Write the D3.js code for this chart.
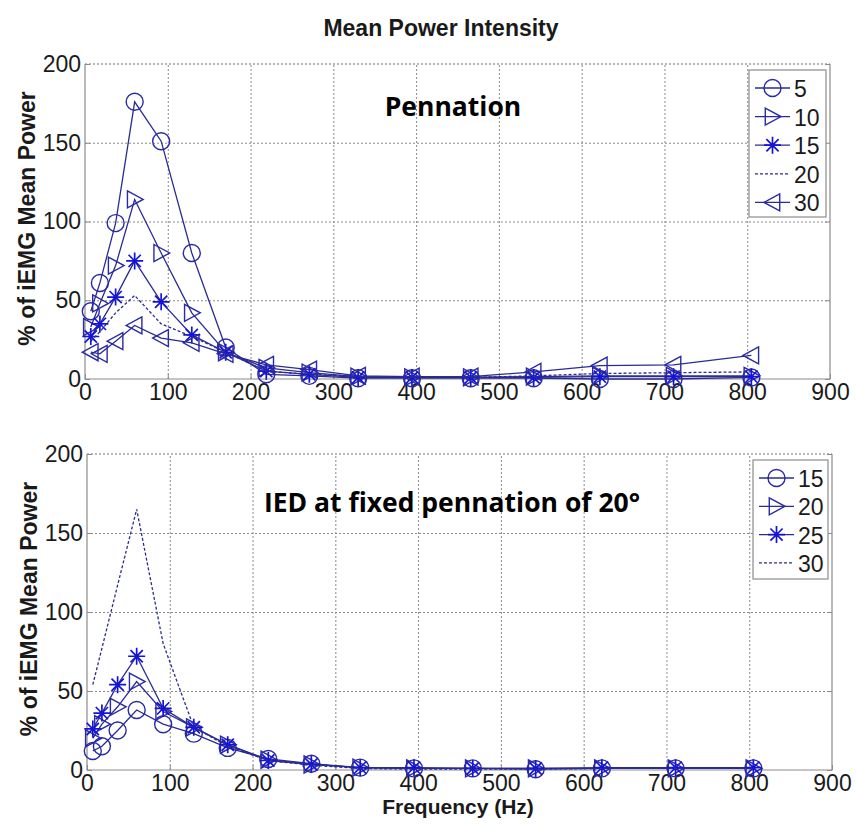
<!DOCTYPE html>
<html>
<head>
<meta charset="utf-8">
<script src="https://cdn.jsdelivr.net/npm/d3@7"></script>
<style>
  html, body { margin: 0; padding: 0; background: #fff; }
  svg { display: block; }
</style>
</head>
<body>
<svg id="chart" width="856" height="824"></svg>
<script>
// ---------------- DATA ----------------
const freq = [7, 18, 37, 60, 92, 129, 170, 219, 271, 330, 395, 466, 542, 622, 711, 805];
const xTicks = [0, 100, 200, 300, 400, 500, 600, 700, 800, 900];
const yTicks = [0, 50, 100, 150, 200];

// Top panel: pennation angles
const pennLabels = ["5", "10", "15", "20", "30"];
const penn5  = [43, 61, 99, 176, 151, 80, 20, 3, 2, 0.5, 0.5, 0.5, 0.5, 0, 0, 1];
const penn10 = [33, 48, 72, 114, 80, 42, 17, 7, 4, 1.5, 1, 1, 1.5, 2, 2, 2];
const penn15 = [27, 35, 52, 75, 49, 28, 17, 5, 3, 1, 1, 1, 1, 1.5, 1.5, 1.5];
const penn20 = [24, 30, 42, 53, 35, 27, 17, 5, 3, 1.5, 1, 1, 2, 3.5, 4, 4.5];
const penn30 = [17, 16, 24, 34, 26, 23, 16, 9, 6, 2, 1.5, 1.5, 4.5, 8.5, 9, 15];

// Bottom panel: IED at fixed pennation of 20°
const iedLabels = ["15", "20", "25", "30"];
const ied15 = [12, 15, 25, 38, 29, 23, 14, 7, 4, 1.5, 1, 1, 0.5, 1, 1, 1];
const ied20 = [20, 29, 40, 56, 37, 27, 16, 6.5, 3.5, 1.5, 1, 1, 1, 1, 1, 1];
const ied25 = [26, 36, 54, 72, 39, 27, 16, 6, 3.5, 1.5, 1.5, 1, 1, 1.5, 1.5, 1.5];
const ied30 = [54, 77, 117, 165, 80, 27, 15, 6, 3, 1, 0.5, 0.5, 0.5, 1, 1, 1];

// ---------------- STYLE ----------------
const LINE = "#2b2b94";
const MARK = "#2a2aa6";
const STAR = "#1414d6";
const svg = d3.select("#chart");
const font = "'Liberation Sans', Arial, sans-serif";

function markerPath(kind, r) {
  if (kind === "right") return `M${-r * 0.85},${-r}L${r},0L${-r * 0.85},${r}Z`;
  if (kind === "left") return `M${r * 0.85},${-r}L${-r},0L${r * 0.85},${r}Z`;
  if (kind === "star") {
    const d = r * 0.72;
    return `M0,${-r}L0,${r}M${-r},0L${r},0M${-d},${-d}L${d},${d}M${-d},${d}L${d},${-d}`;
  }
  return null;
}

function drawMarker(g, kind, cx, cy, r) {
  if (kind === "none") return;
  if (kind === "circle") {
    g.append("circle").attr("cx", cx).attr("cy", cy).attr("r", r)
      .attr("fill", "none").attr("stroke", MARK).attr("stroke-width", 1.4);
  } else {
    g.append("path").attr("d", markerPath(kind, r))
      .attr("transform", `translate(${cx},${cy})`)
      .attr("fill", "none").attr("stroke", kind === "star" ? STAR : MARK)
      .attr("stroke-width", kind === "star" ? 1.7 : 1.4);
  }
}

function panel(cfg) {
  const x = d3.scaleLinear().domain([0, 900]).range([cfg.left, cfg.right]);
  const y = d3.scaleLinear().domain([0, 200]).range([cfg.bottom, cfg.top]);
  const w = cfg.right - cfg.left, h = cfg.bottom - cfg.top;
  const g = svg.append("g");

  // grid
  g.append("g").attr("transform", `translate(0,${cfg.bottom})`)
    .call(d3.axisBottom(x).tickValues(xTicks.slice(1, -1)).tickSize(-h).tickFormat(""))
    .call(s => s.select(".domain").remove())
    .call(s => s.selectAll("line").attr("stroke", "#8a8a8a").attr("stroke-dasharray", "2,2"));
  g.append("g").attr("transform", `translate(${cfg.left},0)`)
    .call(d3.axisLeft(y).tickValues(yTicks.slice(1, -1)).tickSize(-w).tickFormat(""))
    .call(s => s.select(".domain").remove())
    .call(s => s.selectAll("line").attr("stroke", "#8a8a8a").attr("stroke-dasharray", "2,2"));
  g.append("line").attr("x1", cfg.left).attr("x2", cfg.right)
    .attr("y1", y(200)).attr("y2", y(200))
    .attr("stroke", "#6f6f6f").attr("stroke-dasharray", "2,2");

  // box (left, bottom, right solid)
  g.append("path")
    .attr("d", `M${cfg.left},${cfg.top}V${cfg.bottom}H${cfg.right}V${cfg.top}`)
    .attr("fill", "none").attr("stroke", "#8c8c8c").attr("stroke-width", 1.2);

  // inner ticks
  const tk = 5;
  g.append("g").attr("transform", `translate(0,${cfg.bottom})`)
    .call(d3.axisBottom(x).tickValues(xTicks).tickSize(-tk).tickFormat(""))
    .call(s => s.select(".domain").remove())
    .call(s => s.selectAll("line").attr("stroke", "#8c8c8c"));
  g.append("g").attr("transform", `translate(${cfg.left},0)`)
    .call(d3.axisLeft(y).tickValues(yTicks).tickSize(-tk).tickFormat(""))
    .call(s => s.select(".domain").remove())
    .call(s => s.selectAll("line").attr("stroke", "#8c8c8c"));
  g.append("g").attr("transform", `translate(${cfg.right},0)`)
    .call(d3.axisRight(y).tickValues(yTicks).tickSize(-tk).tickFormat(""))
    .call(s => s.select(".domain").remove())
    .call(s => s.selectAll("line").attr("stroke", "#8c8c8c"));

  // tick labels
  g.append("g").attr("transform", `translate(0,${cfg.bottom})`)
    .call(d3.axisBottom(x).tickValues(xTicks).tickSize(0).tickPadding(5).tickFormat(d3.format("d")))
    .call(s => s.select(".domain").remove())
    .call(s => s.selectAll("text").attr("font-family", font).attr("font-size", 23).attr("fill", "#1a1a1a"));
  g.append("g").attr("transform", `translate(${cfg.left},0)`)
    .call(d3.axisLeft(y).tickValues(yTicks).tickSize(0).tickPadding(4).tickFormat(d3.format("d")))
    .call(s => s.select(".domain").remove())
    .call(s => s.selectAll("text").attr("font-family", font).attr("font-size", 23).attr("fill", "#1a1a1a"));

  // y label
  g.append("text")
    .attr("transform", `translate(${cfg.ylabX},${(cfg.top + cfg.bottom) / 2 - 3}) rotate(-90)`)
    .attr("text-anchor", "middle").attr("dominant-baseline", "central")
    .attr("font-family", font).attr("font-weight", "bold").attr("font-size", 23)
    .attr("fill", "#1a1a1a").text("% of iEMG Mean Power");

  // series
  const line = d3.line().x((d, i) => x(freq[i])).y(d => y(d));
  cfg.series.forEach(s => {
    g.append("path").datum(s.values).attr("d", line)
      .attr("fill", "none").attr("stroke", LINE).attr("stroke-width", 1.3)
      .attr("stroke-dasharray", s.dashed ? "3,2" : null);
    s.values.forEach((v, i) => drawMarker(g, s.marker, x(freq[i]), y(v), 8.5));
  });

  // annotation
  g.append("text").attr("x", cfg.annX).attr("y", cfg.annY)
    .attr("text-anchor", "middle").attr("dominant-baseline", "central")
    .attr("font-family", "'Open Sans', Lato, sans-serif").attr("font-weight", "bold")
    .attr("font-size", 26.5).attr("fill", "#000").text(cfg.annotation);

  // legend
  const L = cfg.legend;
  const lg = g.append("g");
  lg.append("rect").attr("x", L.x).attr("y", L.y).attr("width", L.w).attr("height", L.h)
    .attr("fill", "#fff").attr("stroke", "#8c8c8c").attr("stroke-width", 1.2);
  cfg.series.forEach((s, i) => {
    const yy = L.y + L.first + i * L.step;
    lg.append("line").attr("x1", L.x + 6).attr("x2", L.x + 41).attr("y1", yy).attr("y2", yy)
      .attr("stroke", LINE).attr("stroke-width", 1.3)
      .attr("stroke-dasharray", s.dashed ? "3,2" : null);
    drawMarker(lg, s.marker, L.x + 23.5, yy, 8.5);
    lg.append("text").attr("x", L.x + 45).attr("y", yy + 1)
      .attr("dominant-baseline", "central")
      .attr("font-family", font).attr("font-size", 23).attr("fill", "#1a1a1a").text(s.label);
  });
}

// title
svg.append("text").attr("x", 441).attr("y", 28)
  .attr("text-anchor", "middle").attr("dominant-baseline", "central")
  .attr("font-family", font).attr("font-weight", "bold").attr("font-size", 23)
  .attr("fill", "#1a1a1a").text("Mean Power Intensity");

panel({
  left: 85, right: 830, top: 64, bottom: 379, ylabX: 27,
  annotation: "Pennation", annX: 453, annY: 106,
  legend: { x: 749, y: 70, w: 77, h: 147, first: 18, step: 28.6 },
  series: [
    { label: pennLabels[0], values: penn5, marker: "circle" },
    { label: pennLabels[1], values: penn10, marker: "right" },
    { label: pennLabels[2], values: penn15, marker: "star" },
    { label: pennLabels[3], values: penn20, marker: "none", dashed: true },
    { label: pennLabels[4], values: penn30, marker: "left" }
  ]
});

panel({
  left: 87, right: 832, top: 454, bottom: 770, ylabX: 29,
  annotation: "IED at fixed pennation of 20°", annX: 452, annY: 502,
  legend: { x: 753, y: 460, w: 75, h: 119, first: 18, step: 28.3 },
  series: [
    { label: iedLabels[0], values: ied15, marker: "circle" },
    { label: iedLabels[1], values: ied20, marker: "right" },
    { label: iedLabels[2], values: ied25, marker: "star" },
    { label: iedLabels[3], values: ied30, marker: "none", dashed: true }
  ]
});

// x label
svg.append("text").attr("x", 458).attr("y", 806)
  .attr("text-anchor", "middle").attr("dominant-baseline", "central")
  .attr("font-family", font).attr("font-weight", "bold").attr("font-size", 21)
  .attr("fill", "#1a1a1a").text("Frequency (Hz)");
</script>
</body>
</html>
